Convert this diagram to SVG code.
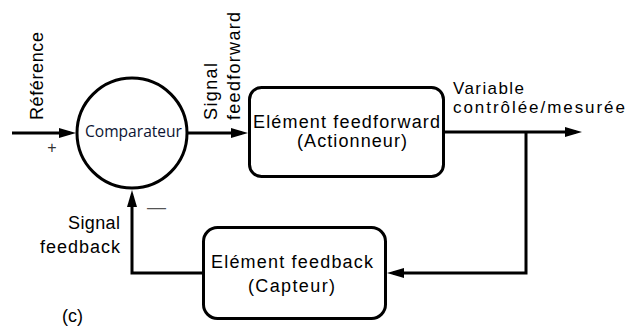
<svg xmlns="http://www.w3.org/2000/svg" width="628" height="329" viewBox="0 0 628 329">
  <defs>
    <style>
      .ln { fill: none; stroke: #000; stroke-width: 3; }
      .box { fill: #fff; stroke: #000; stroke-width: 3; }
      .t { font-family: "Liberation Sans", Arial, sans-serif; font-size: 18px; fill: #000; }
      .cmp { font-family: "Open Sans", "DejaVu Sans", sans-serif; font-size: 15.5px; fill: #0c1433; }
    </style>
    <marker id="arr" markerUnits="userSpaceOnUse" markerWidth="17" markerHeight="10" refX="11" refY="5" orient="auto">
      <path d="M0,0 L17,5 L0,10 Z" fill="#000"/>
    </marker>
  </defs>
  <rect width="628" height="329" fill="#fff"/>

  <g id="connectors">
    <path class="ln" d="M12,133 L70,133" marker-end="url(#arr)"/>
    <path class="ln" d="M188,133 L242,133" marker-end="url(#arr)"/>
    <path class="ln" d="M445,132 L576,132" marker-end="url(#arr)"/>
    <path class="ln" d="M526,132 L526,273 L393,273" marker-end="url(#arr)"/>
    <path class="ln" d="M202,273 L132,273 L132,196" marker-end="url(#arr)"/>
  </g>

  <g id="comparateur">
    <circle cx="132" cy="133" r="55" class="box"/>
    <text class="cmp" x="85" y="137" textLength="97" lengthAdjust="spacingAndGlyphs">Comparateur</text>
  </g>

  <g id="feedforward">
    <rect x="249.5" y="87.5" width="194" height="89" rx="12" class="box"/>
    <text class="t" x="253" y="128" textLength="187">Elément feedforward</text>
    <text class="t" x="297" y="147" textLength="110">(Actionneur)</text>
  </g>

  <g id="feedback">
    <rect x="203.5" y="227.5" width="182" height="91" rx="14" class="box"/>
    <text class="t" x="211" y="268" textLength="162">Elément feedback</text>
    <text class="t" x="248" y="292" textLength="87">(Capteur)</text>
  </g>

  <g id="labels">
    <text class="t" transform="translate(43,120) rotate(-90)" textLength="88">Référence</text>
    <text class="t" transform="translate(217,120) rotate(-90)" textLength="57">Signal</text>
    <text class="t" transform="translate(240,120) rotate(-90)" textLength="108">feedforward</text>
    <text class="t" x="453" y="94" style="font-size:17px" textLength="71">Variable</text>
    <text class="t" x="453" y="113" style="font-size:17px" textLength="172">contrôlée/mesurée</text>
    <text class="t" x="68" y="229" textLength="52">Signal</text>
    <text class="t" x="40" y="253" textLength="80">feedback</text>
    <text class="t" x="52" y="153" style="font-size:16px;fill:#333" text-anchor="middle">+</text>
    <text class="t" x="147" y="213" style="font-size:19px;fill:#555">—</text>
    <text class="t" x="62" y="322">(c)</text>
  </g>
</svg>
